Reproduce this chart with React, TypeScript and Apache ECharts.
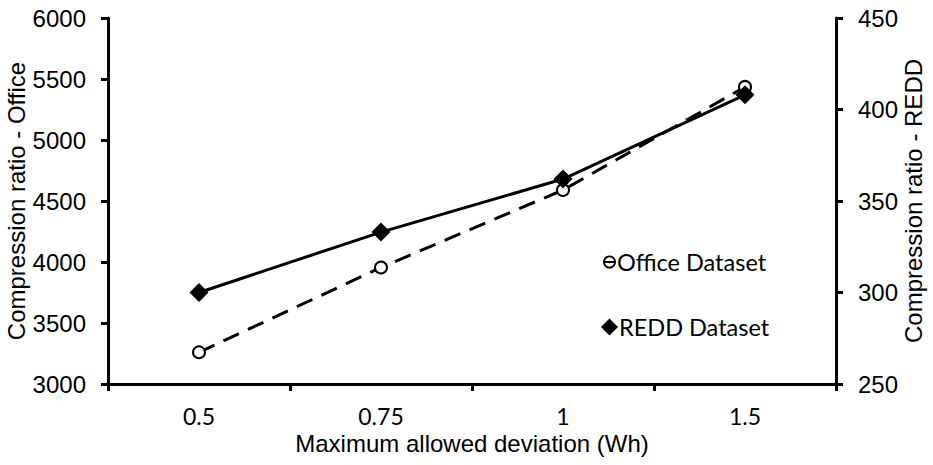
import React, { useEffect, useRef } from "react";
import * as echarts from "echarts";

const categories = ["0.5", "0.75", "1", "1.5"];
const officeValues = [3260, 3955, 4590, 5435];
const reddValues = [300, 333, 362, 408];
const leftTicks = { min: 3000, max: 6000, interval: 500 };
const rightTicks = { min: 250, max: 450, interval: 50 };

const officeIcon =
  "path://M6 0A6 6 0 1 1 5.99 0ZM6 1.7A4.3 4.3 0 1 0 6.01 1.7ZM1.5 5.1H10.5V6.9H1.5Z";

export default function App() {
  const ref = useRef<HTMLDivElement>(null);
  useEffect(() => {
    document.body.style.margin = "0";
    if (!ref.current) return;
    const chart = echarts.init(ref.current, null, { renderer: "svg" });
    const axisFont = { fontFamily: "Liberation Sans, Arial", fontSize: 24, color: "#000" };
    const calibriLike = { fontFamily: "Lato", color: "#000" };
    chart.setOption({
      animation: false,
      backgroundColor: "#fff",
      grid: { left: 108, right: 97, top: 18, bottom: 81, outerBoundsMode: "none", containLabel: false },
      legend: [
        {
          data: [{ name: "Office Dataset", icon: officeIcon }],
          left: 603,
          top: 250,
          itemWidth: 13,
          itemHeight: 13,
          itemGap: 0,
          padding: 0,
          textStyle: { ...calibriLike, fontSize: 23.5, padding: [0, 0, 0, -4] },
          itemStyle: { color: "#000", borderWidth: 0 },
        },
        {
          data: [{ name: "REDD Dataset", icon: "diamond" }],
          left: 601,
          top: 315,
          itemWidth: 17,
          itemHeight: 17,
          itemGap: 0,
          padding: 0,
          textStyle: { ...calibriLike, fontSize: 23.5, padding: [0, 0, 0, -4] },
          itemStyle: { color: "#000" },
        },
      ],
      xAxis: {
        type: "category",
        data: categories,
        boundaryGap: true,
        axisLine: { lineStyle: { color: "#000", width: 3 } },
        axisTick: { show: true, length: 7, lineStyle: { color: "#000", width: 3 } },
        axisLabel: { ...calibriLike, fontSize: 23, margin: 20 },
        name: "Maximum allowed deviation (Wh)",
        nameLocation: "middle",
        nameGap: 47,
        nameMoveOverlap: false,
        nameTextStyle: axisFont,
      },
      yAxis: [
        {
          type: "value",
          min: leftTicks.min,
          max: leftTicks.max,
          interval: leftTicks.interval,
          position: "left",
          splitLine: { show: false },
          axisLine: { show: true, lineStyle: { color: "#000", width: 3 } },
          axisTick: { show: true, length: 7, lineStyle: { color: "#000", width: 3 } },
          axisLabel: { ...axisFont, margin: 22, formatter: (v: number) => String(v) },
          name: "Compression ratio - Office",
          nameLocation: "middle",
          nameGap: 80,
          nameMoveOverlap: false,
          nameTextStyle: axisFont,
        },
        {
          type: "value",
          min: rightTicks.min,
          max: rightTicks.max,
          interval: rightTicks.interval,
          position: "right",
          splitLine: { show: false },
          axisLine: { show: true, lineStyle: { color: "#000", width: 3 } },
          axisTick: { show: true, length: 7, lineStyle: { color: "#000", width: 3 } },
          axisLabel: { ...axisFont, margin: 22, formatter: (v: number) => String(v) },
          name: "Compression ratio - REDD",
          nameLocation: "middle",
          nameGap: 65,
          nameMoveOverlap: false,
          nameTextStyle: axisFont,
        },
      ],
      series: [
        {
          name: "Office Dataset",
          type: "line",
          yAxisIndex: 0,
          data: officeValues,
          symbol: "emptyCircle",
          symbolSize: 12,
          lineStyle: { color: "#000", width: 3, type: [17, 10] },
          itemStyle: { color: "#000", borderColor: "#000", borderWidth: 3 },
          z: 2,
        },
        {
          name: "REDD Dataset",
          type: "line",
          yAxisIndex: 1,
          data: reddValues,
          symbol: "diamond",
          symbolSize: 19,
          lineStyle: { color: "#000", width: 3 },
          itemStyle: { color: "#000" },
          z: 3,
        },
      ],
    });
    return () => chart.dispose();
  }, []);
  return <div ref={ref} style={{ width: 933, height: 465 }} />;
}
